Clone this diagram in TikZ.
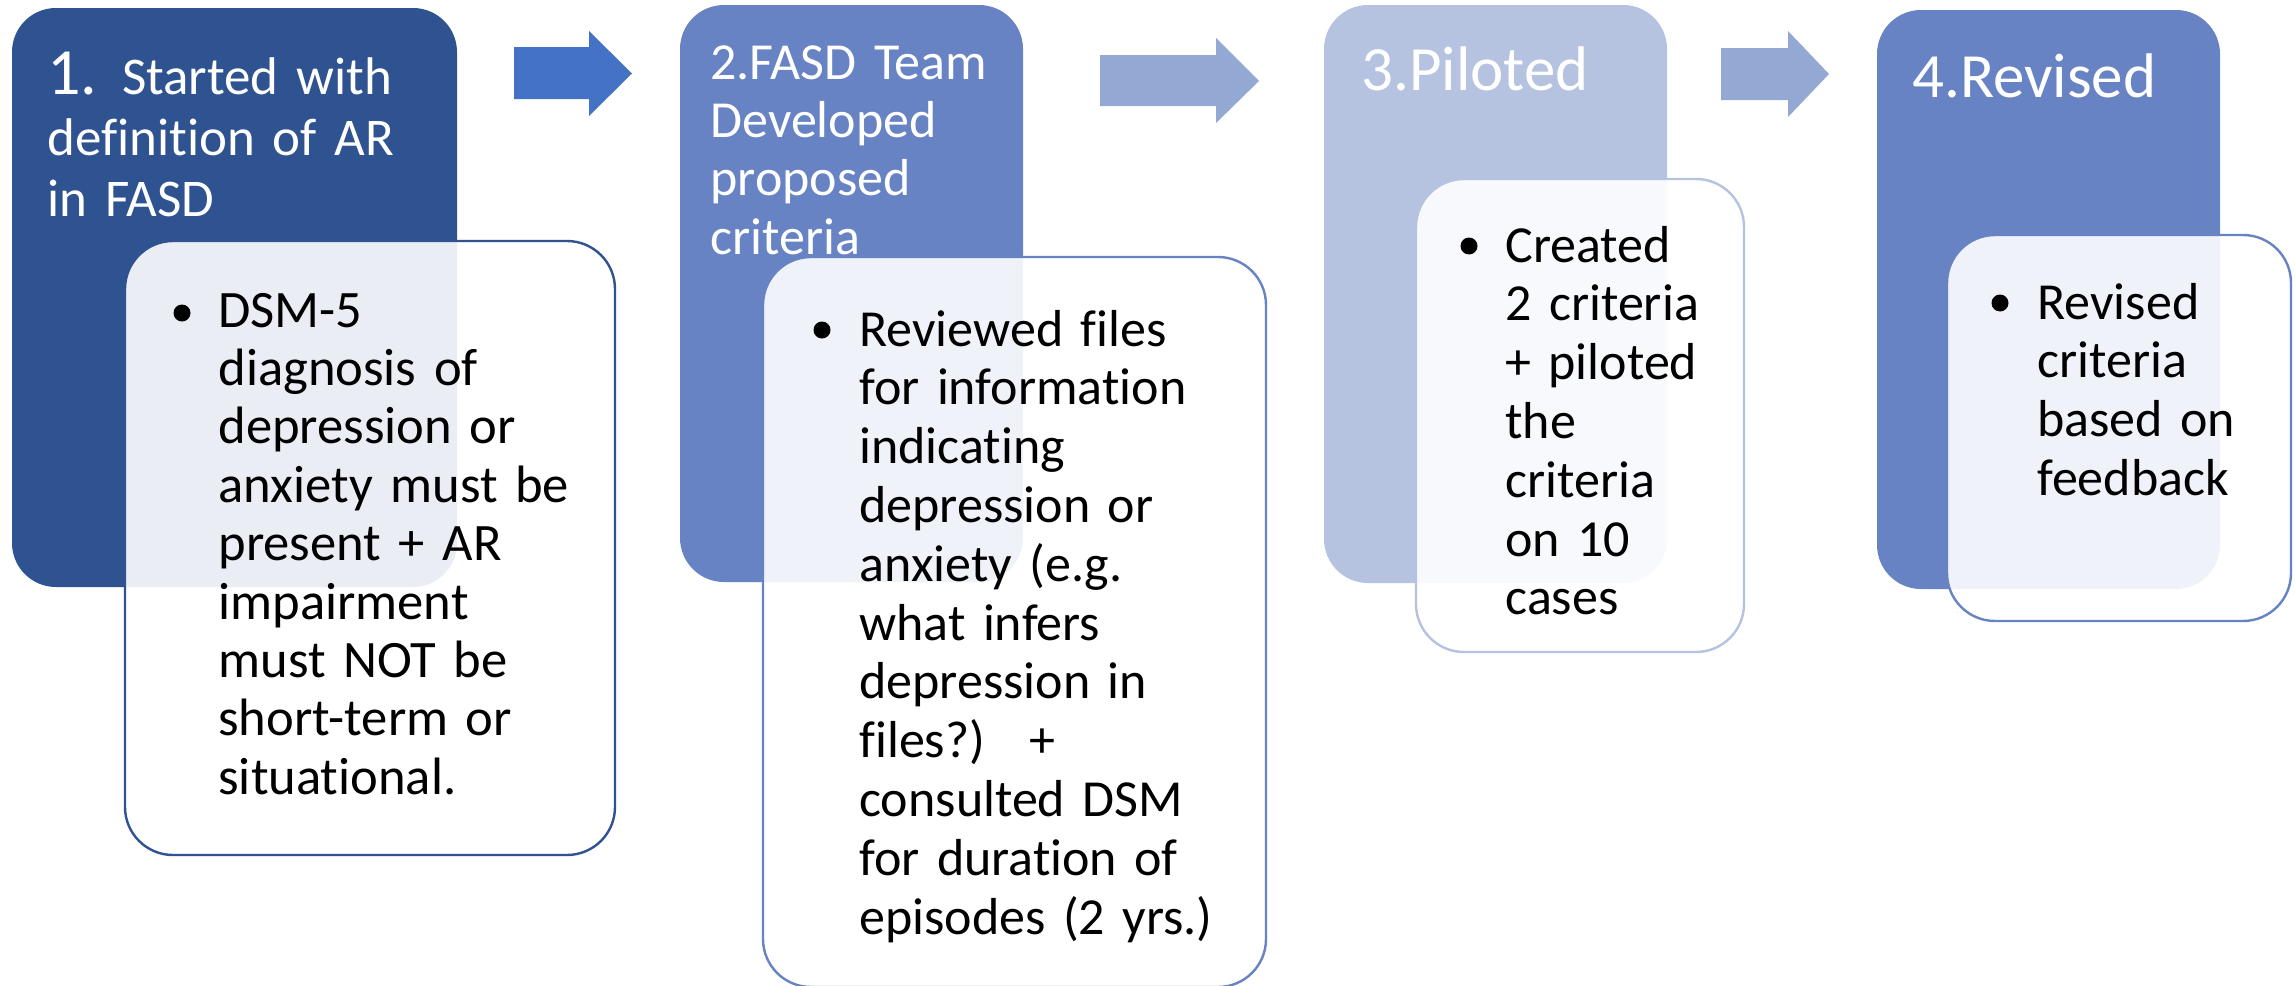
\documentclass[tikz,border=0pt]{standalone}
\usepackage{fontspec}
\setmainfont{Carlito}[Ligatures=NoCommon]

\definecolor{darkstage}{HTML}{2F5290}
\definecolor{midstage}{HTML}{6783C4}
\definecolor{palestage}{HTML}{B5C3E1}
\definecolor{arrowstrong}{HTML}{4472C4}
\definecolor{arrowsoft}{HTML}{94A8D4}

\tikzset{
  stage/.style={fill=#1, draw=none, rounded corners=22pt},
  detail/.style={fill=white, fill opacity=0.9, draw=#1, line width=1.2pt, rounded corners=24pt},
  head/.style={anchor=base west, text=white, align=left, inner sep=0pt, text width=400pt},
  body/.style={anchor=base west, text=black, align=left, inner sep=0pt, text width=400pt,
               font=\fontsize{26}{29.4}\selectfont},
  dot/.style={circle, fill=black, draw=none, inner sep=0pt, minimum size=8.5pt},
  flow/.style={fill=#1, draw=none},
}

\begin{document}
\begin{tikzpicture}[x=0.5pt, y=-0.5pt]
\useasboundingbox (0,0) rectangle (2295,985);
\fill[white] (0,0) rectangle (2295,985);

% stage 1
\path[stage=darkstage] (12,8) rectangle (457,587);
\path[detail=darkstage] (125,241) rectangle (615,855);
\node[head, font=\fontsize{26.5}{30.5}\selectfont] (h1) at (47,94)
  {{\fontsize{33}{30.5}\selectfont 1.}\hspace{-1pt} Started with\\definition of AR\\in FASD};
\node[dot] (b1) at (182,313) {};
\node[body, font=\fontsize{26.3}{29.2}\selectfont] (t1) at (218,327)
  {DSM-5\\diagnosis of\\depression or\\anxiety must be\\present + AR\\impairment\\must NOT be\\short-term or\\situational.};

% stage 2
\path[stage=midstage] (680,5) rectangle (1023,582);
\path[detail=midstage] (763,257) rectangle (1266,987);
\node[head, font=\fontsize{26}{29.2}\selectfont] (h2) at (710,79)
  {2.FASD Team\\Developed\\proposed\\criteria};
\node[dot] (b2) at (822,330) {};
\node[body] (t2) at (859,346)
  {Reviewed files\\for information\\indicating\\depression or\\anxiety (e.g.\\what infers\\depression in\\files?)\hspace*{22pt}+\\consulted DSM\\for duration of\\episodes (2 yrs.)};

% stage 3
\path[stage=palestage] (1324,5) rectangle (1667,583);
\path[detail=palestage] (1416,179) rectangle (1744,652);
\node[head, font=\fontsize{31.5}{36}\selectfont] (h3) at (1361,90) {3.Piloted};
\node[dot] (b3) at (1469,246) {};
\node[body] (t3) at (1505,262)
  {Created\\2 criteria\\+ piloted\\the\\criteria\\on 10\\cases};

% stage 4
\path[stage=midstage] (1877,10) rectangle (2220,589);
\path[detail=midstage] (1947,235) rectangle (2291,621);
\node[head, font=\fontsize{31.5}{36}\selectfont] (h4) at (1912,97) {4.Revised};
\node[dot] (b4) at (2000,303) {};
\node[body] (t4) at (2037,319)
  {Revised\\criteria\\based on\\feedback};

% block arrows between stages
\fill[flow=arrowstrong] (514,47) -- (589,47) -- (589,31) -- (632,73.5) -- (589,116) -- (589,99) -- (514,99) -- cycle;
\fill[flow=arrowsoft] (1100,55) -- (1216,55) -- (1216,38) -- (1259,81) -- (1216,123) -- (1216,106) -- (1100,106) -- cycle;
\fill[flow=arrowsoft] (1721,48) -- (1788,48) -- (1788,31) -- (1829,74) -- (1788,117) -- (1788,100) -- (1721,100) -- cycle;
\end{tikzpicture}
\end{document}
